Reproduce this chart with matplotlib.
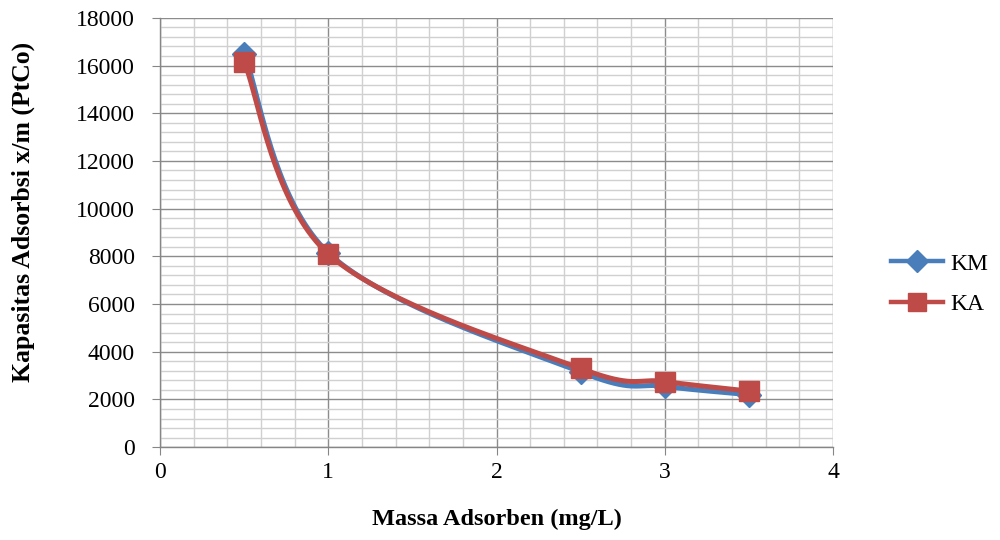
import numpy as np
import matplotlib.pyplot as plt
from matplotlib.ticker import MultipleLocator

# Adsorption capacity vs. adsorbent mass
massa = [0.5, 1.0, 2.5, 3.0, 3.5]
km = [16500, 8150, 3150, 2550, 2200]
ka = [16150, 8100, 3300, 2750, 2350]


def smooth_curve(x, y, n=40):
    # Catmull-Rom style smoothing through every point
    x = np.asarray(x, float)
    y = np.asarray(y, float)
    px = np.concatenate([[x[0]], x, [x[-1]]])
    py = np.concatenate([[y[0]], y, [y[-1]]])
    xs, ys = [], []
    t = np.linspace(0, 1, n)
    for i in range(1, len(px) - 2):
        p0 = np.array([px[i], py[i]])
        p3 = np.array([px[i + 1], py[i + 1]])
        c1 = p0 + (np.array([px[i + 1], py[i + 1]]) - np.array([px[i - 1], py[i - 1]])) / 6
        c2 = p3 - (np.array([px[i + 2], py[i + 2]]) - np.array([px[i], py[i]])) / 6
        b = ((1 - t) ** 3)[:, None] * p0 + (3 * (1 - t) ** 2 * t)[:, None] * c1 \
            + (3 * (1 - t) * t ** 2)[:, None] * c2 + (t ** 3)[:, None] * p3
        xs.extend(b[:, 0])
        ys.extend(b[:, 1])
    return np.array(xs), np.array(ys)


plt.rcParams['font.family'] = ['Liberation Serif', 'DejaVu Serif']

fig = plt.figure(figsize=(10, 5.4), dpi=100)
ax = fig.add_axes([0.16, 0.172, 0.673, 0.795])

blue = '#4a7ebb'
red = '#be4b48'

sx, sy = smooth_curve(massa, km)
ax.plot(sx, sy, color=blue, lw=3.6, solid_capstyle='round', zorder=3)
ax.plot(massa, km, ls='none', marker='D', ms=12, color=blue, zorder=4)
sx, sy = smooth_curve(massa, ka)
ax.plot(sx, sy, color=red, lw=3.6, solid_capstyle='round', zorder=5)
ax.plot(massa, ka, ls='none', marker='s', ms=14, color=red, zorder=6)

# legend handles
ax.plot([], [], color=blue, lw=3.2, marker='D', ms=11, label='KM')
ax.plot([], [], color=red, lw=3.2, marker='s', ms=13, label='KA')

ax.set_xlim(0, 4)
ax.set_ylim(0, 18000)
ax.xaxis.set_major_locator(MultipleLocator(1))
ax.xaxis.set_minor_locator(MultipleLocator(0.2))
ax.yaxis.set_major_locator(MultipleLocator(2000))
ax.yaxis.set_minor_locator(MultipleLocator(400))

ax.grid(which='major', color='#8c8c8c', lw=1.0)
ax.grid(which='minor', color='#d0d0d0', lw=1.0)
ax.set_axisbelow(True)

for side in ['top', 'right']:
    ax.spines[side].set_visible(False)
for side in ['left', 'bottom']:
    ax.spines[side].set_color('#868686')
    ax.spines[side].set_linewidth(1.0)

ax.tick_params(which='major', direction='out', length=6, color='#868686',
               labelsize=17)
ax.tick_params(which='minor', length=0)
ax.tick_params(axis='y', pad=12)
ax.tick_params(axis='x', pad=5)

ax.set_xlabel('Massa Adsorben (mg/L)', fontsize=17.5, fontweight='bold', labelpad=18)
ax.set_ylabel('Kapasitas Adsorbsi x/m (PtCo)', fontsize=18.5, fontweight='bold')
ax.yaxis.set_label_coords(-0.186, 0.548)

leg = ax.legend(loc='center left', bbox_to_anchor=(1.055, 0.38), frameon=False,
                fontsize=17, handlelength=2.2, labelspacing=0.8, handletextpad=0.3)

fig.savefig('out.png', dpi=100)
